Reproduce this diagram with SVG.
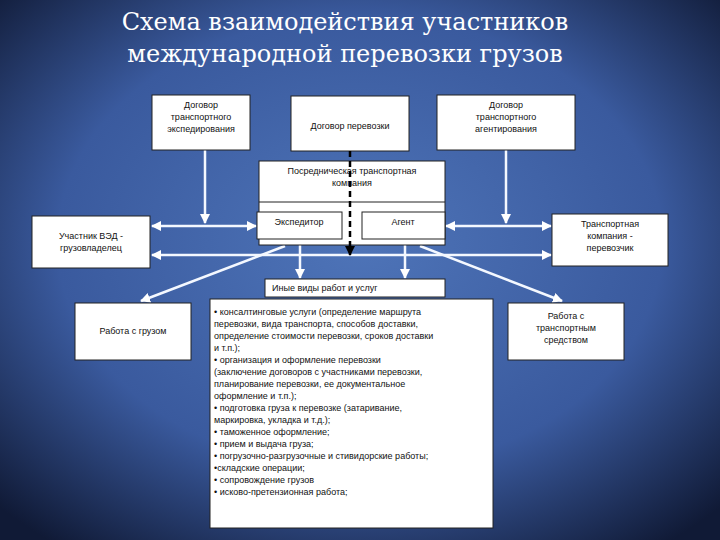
<svg xmlns="http://www.w3.org/2000/svg" width="720" height="540" viewBox="0 0 720 540">
<defs>
<radialGradient id="bg" cx="50%" cy="45%" r="70%">
<stop offset="0" stop-color="#4e74b8"/><stop offset="0.6" stop-color="#3a5a9e"/><stop offset="1" stop-color="#101a36"/>
</radialGradient>
<marker id="a" viewBox="0 0 10 10" refX="9" refY="5" markerWidth="4" markerHeight="4" orient="auto-start-reverse"><path d="M0,0L10,5L0,10z" fill="#fff"/></marker>
<marker id="k" viewBox="0 0 10 10" refX="9" refY="5" markerWidth="4" markerHeight="4" orient="auto"><path d="M0,0L10,5L0,10z" fill="#000"/></marker>
<style>
.b{fill:#fff;stroke:#222;stroke-width:1}
.t{font-family:"Liberation Sans",Arial,sans-serif;font-size:9px;fill:#111;text-anchor:middle}
.l{font-family:"Liberation Sans",Arial,sans-serif;font-size:9px;fill:#111}
.w{stroke:#f4f8ff;stroke-width:2.5;fill:none}
</style>
</defs>
<rect width="720" height="540" fill="url(#bg)"/>
<g id="title" font-family="'DejaVu Serif','Liberation Serif',serif" font-size="24" fill="#fff" text-anchor="middle">
<text x="345" y="30">Схема взаимодействия участников</text>
<text x="345" y="62">международной перевозки грузов</text>
</g>
<g id="connectors">
<line class="w" x1="205" y1="150" x2="205" y2="223" marker-end="url(#a)"/>
<line class="w" x1="506" y1="150" x2="506" y2="223" marker-end="url(#a)"/>
<line class="w" x1="152" y1="226" x2="256" y2="226" marker-start="url(#a)" marker-end="url(#a)"/>
<line class="w" x1="446" y1="226" x2="551" y2="226" marker-start="url(#a)" marker-end="url(#a)"/>
<line class="w" x1="152" y1="255" x2="551" y2="255" marker-start="url(#a)" marker-end="url(#a)"/>
<line class="w" x1="300" y1="239" x2="300" y2="278" marker-end="url(#a)"/>
<line class="w" x1="405" y1="239" x2="405" y2="278" marker-end="url(#a)"/>
<line class="w" x1="285" y1="246" x2="141" y2="301" marker-end="url(#a)"/>
<line class="w" x1="420" y1="246" x2="562" y2="301" marker-end="url(#a)"/>
</g>
<g id="n1"><rect class="b" x="152" y="95" width="98" height="55"/><text class="t" x="201" y="108">Договор</text><text class="t" x="201" y="120">транспортного</text><text class="t" x="201" y="132">экспедирования</text></g>
<g id="n2"><rect class="b" x="291" y="96" width="118" height="55"/><text class="t" x="350" y="129">Договор перевозки</text></g>
<g id="n3"><rect class="b" x="437" y="95" width="138" height="55"/><text class="t" x="506" y="108">Договор</text><text class="t" x="506" y="120">транспортного</text><text class="t" x="506" y="132">агентирования</text></g>
<g id="n4"><rect class="b" x="259" y="161" width="186" height="84"/><line x1="259" y1="202" x2="445" y2="202" stroke="#222"/><text class="t" x="352" y="174">Посредническая транспортная</text><text class="t" x="352" y="186">компания</text></g>
<g id="n5"><rect class="b" x="257" y="212" width="85" height="27"/><text class="t" x="299" y="225">Экспедитор</text></g>
<g id="n6"><rect class="b" x="362" y="212" width="83" height="27"/><text class="t" x="403" y="225">Агент</text></g>
<g id="dash"><line x1="350" y1="151" x2="350" y2="255" stroke="#000" stroke-width="2.5" stroke-dasharray="6,4" marker-end="url(#k)"/></g>
<g id="n7"><rect class="b" x="32" y="216" width="118" height="52"/><text class="t" x="91" y="239">Участник ВЭД -</text><text class="t" x="91" y="251">грузовладелец</text></g>
<g id="n8"><rect class="b" x="552" y="214" width="116" height="52"/><text class="t" x="610" y="227">Транспортная</text><text class="t" x="610" y="239">компания -</text><text class="t" x="610" y="251">перевозчик</text></g>
<g id="n9"><rect class="b" x="265" y="279" width="180" height="18"/><text class="l" x="272" y="291">Иные виды работ и услуг</text></g>
<g id="n10"><rect class="b" x="210" y="299" width="283" height="229"/>
<g class="l" font-size="8.6">
<text x="214" y="315">• консалтинговые услуги (определение маршрута</text>
<text x="214" y="327">перевозки, вида транспорта, способов доставки,</text>
<text x="214" y="339">определение стоимости перевозки, сроков доставки</text>
<text x="214" y="351">и т.п.);</text>
<text x="214" y="363">•  организация и оформление перевозки</text>
<text x="214" y="375">(заключение договоров с участниками перевозки,</text>
<text x="214" y="387">планирование перевозки, ее документальное</text>
<text x="214" y="399">оформление и т.п.);</text>
<text x="214" y="411">• подготовка груза к перевозке (затаривание,</text>
<text x="214" y="423">маркировка, укладка и т.д.);</text>
<text x="214" y="435">• таможенное оформление;</text>
<text x="214" y="447">• прием и выдача груза;</text>
<text x="214" y="459">• погрузочно-разгрузочные и стивидорские работы;</text>
<text x="214" y="471">•складские операции;</text>
<text x="214" y="483">• сопровождение грузов</text>
<text x="214" y="495">• исково-претензионная работа;</text>
</g></g>
<g id="n11"><rect class="b" x="75" y="303" width="116" height="57"/><text class="t" x="133" y="334">Работа с грузом</text></g>
<g id="n12"><rect class="b" x="508" y="303" width="116" height="57"/><text class="t" x="566" y="319">Работа с</text><text class="t" x="566" y="331">транспортным</text><text class="t" x="566" y="343">средством</text></g>
</svg>
